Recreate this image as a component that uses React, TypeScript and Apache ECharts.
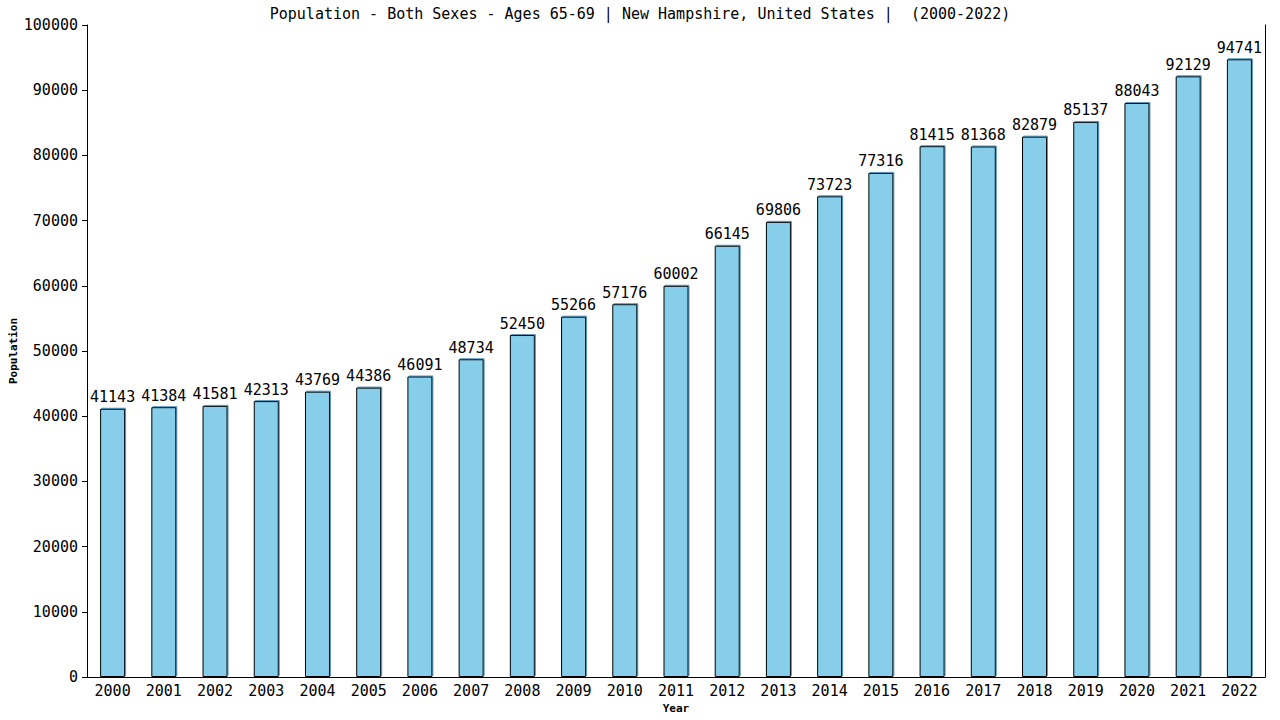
import React, { useEffect, useRef } from "react";
import * as echarts from "echarts";

const years = ["2000","2001","2002","2003","2004","2005","2006","2007","2008","2009","2010","2011","2012","2013","2014","2015","2016","2017","2018","2019","2020","2021","2022"];
const population = [41143,41384,41581,42313,43769,44386,46091,48734,52450,55266,57176,60002,66145,69806,73723,77316,81415,81368,82879,85137,88043,92129,94741];
const titleText = "Population - Both Sexes - Ages 65-69 | New Hampshire, United States |  (2000-2022)";

const FONT = "'DejaVu Sans Mono', monospace";

export default function App() {
  const ref = useRef<HTMLDivElement>(null);
  useEffect(() => {
    const chart = echarts.init(ref.current!, null, { renderer: "svg" });
    chart.setOption({
      animation: false,
      backgroundColor: "#ffffff",
      title: {
        text: titleText,
        left: "center",
        top: 1,
        textStyle: { fontFamily: FONT, fontSize: 15, fontWeight: "normal", color: "#000" },
      },
      grid: { left: 87, right: 15, top: 25, bottom: 43, containLabel: false, outerBoundsMode: "none" },
      xAxis: {
        type: "category",
        data: years,
        name: "Year",
        nameLocation: "middle",
        nameGap: 26,
        nameMoveOverlap: false,
        nameTextStyle: { fontFamily: FONT, fontSize: 11, fontWeight: "bold", color: "#000" },
        axisLine: { lineStyle: { color: "#000", width: 1 } },
        axisTick: { show: false },
        axisLabel: { fontFamily: FONT, fontSize: 15, color: "#000", margin: 6 },
      },
      yAxis: [
        {
          type: "value",
          min: 0,
          max: 100000,
          interval: 10000,
          name: "Population",
          nameLocation: "middle",
          nameGap: 68,
          nameMoveOverlap: false,
          nameTextStyle: { fontFamily: FONT, fontSize: 11, fontWeight: "bold", color: "#000" },
          axisLine: { show: true, lineStyle: { color: "#000", width: 1 } },
          axisTick: { show: true, length: 5, lineStyle: { color: "#000" } },
          axisLabel: { fontFamily: FONT, fontSize: 15, color: "#000", margin: 9, formatter: (v: number) => String(v) },
          splitLine: { show: false },
        },
        {
          type: "value",
          min: 0,
          max: 100000,
          interval: 10000,
          position: "right",
          axisLine: { show: true, lineStyle: { color: "#000", width: 1 } },
          axisTick: { show: false },
          axisLabel: { show: false },
          splitLine: { show: false },
        },
      ],
      series: [
        {
          type: "bar",
          data: population,
          barWidth: 25,
          itemStyle: {
            color: "#87CEEB",
            borderColor: "#000",
            borderWidth: 1,
            shadowColor: "rgba(70,140,180,0.9)",
            shadowOffsetX: 1,
            shadowOffsetY: -1,
            shadowBlur: 0,
          },
          label: {
            show: true,
            position: "top",
            distance: 4,
            fontFamily: FONT,
            fontSize: 15,
            color: "#000",
          },
        },
      ],
    });
    return () => chart.dispose();
  }, []);
  return <div ref={ref} style={{ width: 1280, height: 720, position: "absolute", left: 0, top: 0 }} />;
}
